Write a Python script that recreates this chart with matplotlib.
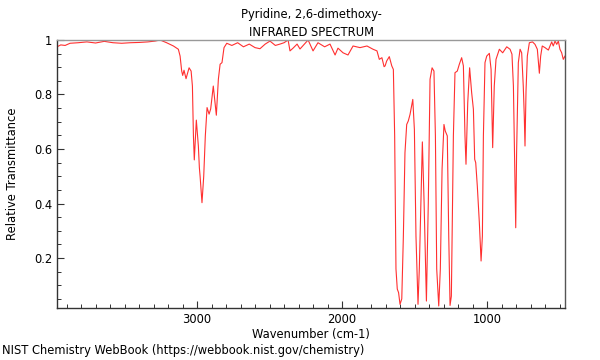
import matplotlib
matplotlib.use("Agg")
import matplotlib.pyplot as plt
from matplotlib.ticker import MultipleLocator, FuncFormatter

# spectrum (wavenumber cm-1, relative transmittance)
wavenumber = [
    3966, 3940, 3910, 3876, 3820, 3760, 3700, 3640, 3580, 3520, 3460, 3400,
    3340, 3290, 3255, 3210, 3163, 3129, 3117, 3106, 3099, 3090, 3076, 3055,
    3041, 3032, 3025, 3019, 3005, 2991, 2984, 2979, 2966, 2954, 2943, 2931,
    2917, 2906, 2888, 2867, 2853, 2841, 2828, 2814, 2795, 2760, 2720, 2680,
    2640, 2600, 2566, 2530, 2497, 2460, 2428, 2400, 2372, 2359, 2338, 2310,
    2290, 2260, 2234, 2200, 2166, 2120, 2083, 2048, 2028, 1993, 1959, 1924,
    1876, 1828, 1786, 1759, 1743, 1725, 1710, 1703, 1692, 1674, 1657, 1646,
    1637, 1628, 1619, 1610, 1600, 1588, 1577, 1566, 1554, 1543, 1531, 1512,
    1501, 1490, 1476, 1467, 1446, 1434, 1418, 1405, 1393, 1379, 1366, 1356,
    1347, 1333, 1322, 1310, 1297, 1288, 1274, 1264, 1255, 1246, 1232, 1221,
    1205, 1191, 1175, 1163, 1152, 1145, 1133, 1120, 1106, 1094, 1085, 1078,
    1067, 1053, 1041, 1032, 1025, 1014, 1002, 984, 972, 961, 950, 938, 915,
    892, 864, 841, 828, 818, 809, 802, 796, 784, 772, 761, 750, 743, 738, 731,
    722, 708, 686, 669, 653, 639, 630, 619, 600, 577, 554, 543, 531, 519, 508,
    497, 485, 474, 462,
]
transmittance = [
    0.975, 0.982, 0.980, 0.988, 0.990, 0.993, 0.989, 0.995, 0.990, 0.988,
    0.990, 0.991, 0.993, 0.996, 1.000, 0.990, 0.978, 0.966, 0.941, 0.886,
    0.870, 0.889, 0.858, 0.898, 0.886, 0.831, 0.648, 0.560, 0.706, 0.611,
    0.531, 0.500, 0.403, 0.500, 0.648, 0.752, 0.728, 0.747, 0.831, 0.724,
    0.856, 0.911, 0.917, 0.972, 0.988, 0.980, 0.990, 0.975, 0.985, 0.972,
    0.968, 0.985, 0.996, 0.980, 0.985, 0.990, 1.000, 0.960, 0.970, 0.985,
    0.967, 0.985, 1.000, 0.960, 0.990, 0.975, 0.985, 0.945, 0.970, 0.953,
    0.945, 0.978, 0.972, 0.978, 0.966, 0.960, 0.929, 0.935, 0.902, 0.905,
    0.923, 0.939, 0.905, 0.892, 0.648, 0.160, 0.086, 0.073, 0.030, 0.050,
    0.280, 0.586, 0.690, 0.703, 0.727, 0.782, 0.672, 0.280, 0.030, 0.160,
    0.626, 0.403, 0.042, 0.403, 0.856, 0.898, 0.886, 0.648, 0.160, 0.024,
    0.160, 0.527, 0.690, 0.666, 0.648, 0.280, 0.026, 0.060, 0.648, 0.880,
    0.886, 0.911, 0.935, 0.905, 0.648, 0.544, 0.770, 0.898, 0.807, 0.746,
    0.562, 0.550, 0.464, 0.330, 0.189, 0.280, 0.648, 0.917, 0.941, 0.951,
    0.892, 0.605, 0.831, 0.929, 0.966, 0.953, 0.975, 0.966, 0.948, 0.831,
    0.525, 0.311, 0.586, 0.917, 0.966, 0.953, 0.831, 0.721, 0.611, 0.813,
    0.941, 0.990, 0.993, 0.984, 0.966, 0.878, 0.941, 0.978, 0.972, 0.963,
    0.993, 0.978, 0.996, 0.984, 0.996, 0.966, 0.953, 0.929, 0.941,
]

fs = 8.3
fig = plt.figure(figsize=(6, 3.6), dpi=100)
ax = fig.add_axes([0.095, 0.1444, 0.8467, 0.7445])
ax.plot(wavenumber, transmittance, color="#ff3030", lw=0.8)

ax.set_xlim(3966, 462)
ax.set_ylim(0.0165, 1.0)
ax.xaxis.set_major_locator(MultipleLocator(1000))
ax.xaxis.set_minor_locator(MultipleLocator(100))
ax.yaxis.set_major_locator(MultipleLocator(0.2))
ax.yaxis.set_minor_locator(MultipleLocator(0.05))
ax.yaxis.set_major_formatter(FuncFormatter(lambda v, p: f"{v:g}"))
ax.tick_params(which="both", direction="in", top=False, right=False,
               labelsize=fs, colors="#333333", labelcolor="black")
ax.tick_params(which="major", length=5, width=0.8, pad=3.5)
ax.tick_params(which="minor", length=3, width=0.7)

ax.spines["top"].set_color("#999999")
ax.spines["right"].set_color("#555555")
ax.spines["left"].set_color("#333333")
ax.spines["bottom"].set_color("#333333")
for s in ax.spines.values():
    s.set_linewidth(1.0)

ax.set_xlabel("Wavenumber (cm-1)", fontsize=fs, labelpad=1.5)
ax.set_ylabel("Relative Transmittance", fontsize=fs, labelpad=11)
ax.set_title("Pyridine, 2,6-dimethoxy-\nINFRARED SPECTRUM", fontsize=fs,
             pad=3, linespacing=1.45)
fig.text(0.003, 0.0083, "NIST Chemistry WebBook (https://webbook.nist.gov/chemistry)",
         fontsize=fs, ha="left", va="bottom")

fig.savefig("out.png", dpi=100)
